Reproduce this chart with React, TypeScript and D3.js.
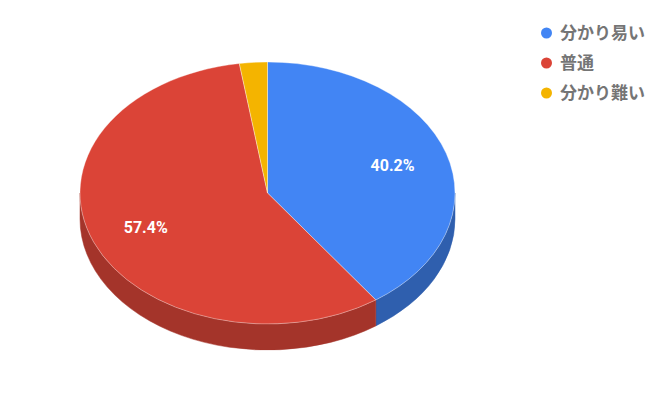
import React from "react";
import * as d3 from "d3";

const categories = ["分かり易い", "普通", "分かり難い"];
const values = [40.2, 57.4, 2.4];
const colors = ["#4285f4", "#db4437", "#f4b400"];
const sideColors = ["#2f5fae", "#a4342a", "#b58600"];
const labels = ["40.2%", "57.4%", ""];

const W = 667, H = 415;
const cx = 267.5, cy = 193, rx = 187.5, ry = 131, depth = 26;

function pt(a: number, dy = 0): [number, number] {
  return [cx + rx * Math.sin(a), cy - ry * Math.cos(a) + dy];
}

export default function App() {
  const pie = d3.pie<number>().sort(null).value((d) => d)(values);
  const sides: JSX.Element[] = [];
  pie.forEach((s, i) => {
    const a1 = Math.max(s.startAngle, Math.PI / 2);
    const a2 = Math.min(s.endAngle, (3 * Math.PI) / 2);
    if (a2 <= a1) return;
    const p1 = pt(a1), p2 = pt(a2), q2 = pt(a2, depth), q1 = pt(a1, depth);
    const d = `M${p1[0]},${p1[1]} A${rx},${ry} 0 0 1 ${p2[0]},${p2[1]} L${q2[0]},${q2[1]} A${rx},${ry} 0 0 0 ${q1[0]},${q1[1]} Z`;
    sides.push(<path key={"s" + i} d={d} fill={sideColors[i]} stroke={sideColors[i]} strokeWidth={0.5} />);
  });
  const tops = pie.map((s, i) => {
    const p1 = pt(s.startAngle), p2 = pt(s.endAngle);
    const large = s.endAngle - s.startAngle > Math.PI ? 1 : 0;
    const d = `M${cx},${cy} L${p1[0]},${p1[1]} A${rx},${ry} 0 ${large} 1 ${p2[0]},${p2[1]} Z`;
    return <path key={"t" + i} d={d} fill={colors[i]} stroke="#ffffff" strokeWidth={0.6} strokeOpacity={0.6} />;
  });
  const texts = pie.map((s, i) => {
    if (!labels[i]) return null;
    const m = (s.startAngle + s.endAngle) / 2;
    const x = cx + rx * 0.7 * Math.sin(m);
    const y = cy - ry * 0.7 * Math.cos(m);
    return (
      <text key={"l" + i} x={x} y={y} dy="0.35em" textAnchor="middle" fill="#ffffff"
        fontFamily="Roboto, Arial, sans-serif" fontWeight="bold" fontSize={16}>{labels[i]}</text>
    );
  });
  const legendY = d3.scalePoint<string>().domain(categories).range([33, 93]);
  return (
    <svg width={W} height={H} style={{ position: "absolute", left: 0, top: 0 }}>
      <rect width={W} height={H} fill="#ffffff" />
      {sides}
      {tops}
      {texts}
      {categories.map((c, i) => (
        <g key={c} transform={`translate(0,${legendY(c)})`}>
          <circle cx={546.5} cy={0} r={5.5} fill={colors[i]} />
          <text x={560} y={0} dy="0.36em" fill="#757575" fontFamily="'Noto Sans CJK JP', Roboto, sans-serif"
            fontWeight="bold" fontSize={17}>{c}</text>
        </g>
      ))}
    </svg>
  );
}
